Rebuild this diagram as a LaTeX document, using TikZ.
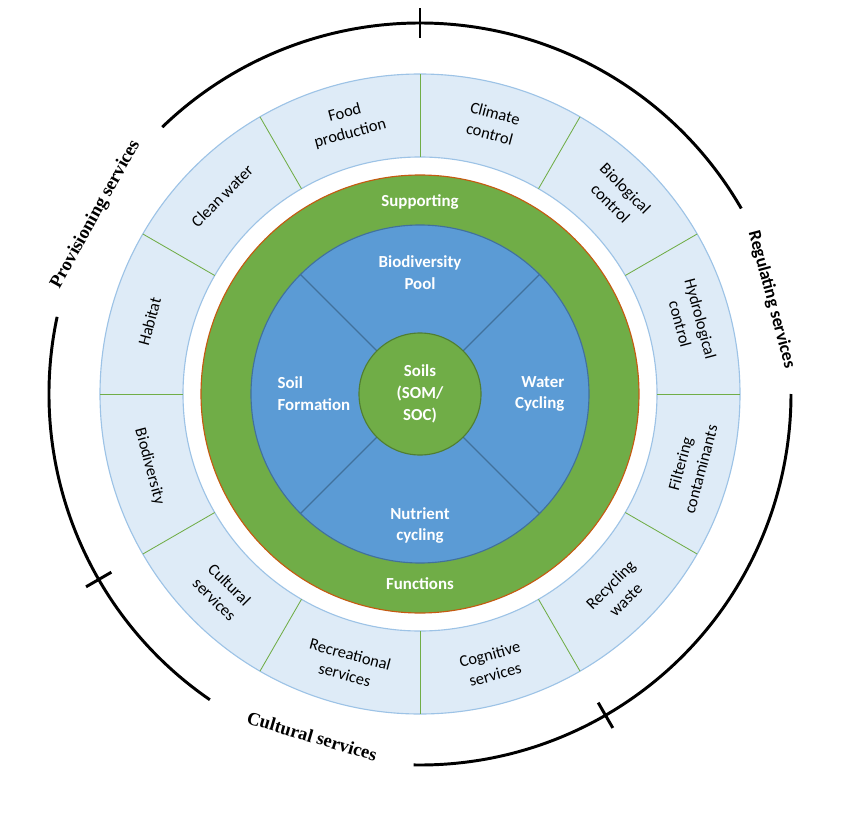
\documentclass[tikz,border=0pt]{standalone}
\usepackage{fontspec}
\setmainfont{Carlito}
\newfontfamily\timesfont{Liberation Serif}
\definecolor{paleblue}{HTML}{DEEBF7}
\definecolor{paleedge}{HTML}{9DC3E6}
\definecolor{leaf}{HTML}{70AD47}
\definecolor{leafdark}{HTML}{507E32}
\definecolor{rust}{HTML}{C55A11}
\definecolor{sky}{HTML}{5B9BD5}
\definecolor{skydark}{HTML}{41719C}

\begin{document}
\begin{tikzpicture}[
  seg/.style={align=center, inner sep=1pt, font=\fontsize{11.7}{15}\selectfont},
  core/.style={align=center, inner sep=1pt, text=white, font=\fontsize{12}{15.5}\selectfont\bfseries},
  band/.style={inner sep=1pt, font=\fontsize{13.2}{16}\timesfont\bfseries},
  rim/.style={line width=2.1pt}]
\useasboundingbox (-10.5,-10.875) rectangle (10.75,9.85);
% Ring 1: ecosystem services
\filldraw[fill=paleblue, draw=paleedge, line width=0.8pt] (0,0) circle (8);
\filldraw[fill=white, draw=paleedge, line width=0.8pt] (0,0) circle (5.925);
\foreach \a in {0,30,...,330}{ \draw[leaf, line width=0.6pt] (\a:5.925) -- (\a:8); }
\foreach \a/\r/\t [count=\i] in {105/15/Food\\production, 75/-15/Climate\\control, 45/-45/Biological\\control,
  15/-75/Hydrological\\control, -15/75/Filtering\\contaminants, -45/45/Recycling\\waste,
  -75/15/Cognitive\\services, -105/-15/Recreational\\services, -135/-45/Cultural\\services,
  -165/-75/Biodiversity, 165/75/Habitat, 135/45/Clean water}
  { \node[seg, rotate=\r] (srv\i) at (\a:7) {\t}; }
% Ring 2: supporting functions
\filldraw[fill=leaf, draw=rust, line width=0.8pt] (0,0) circle (5.475);
\filldraw[fill=sky, draw=skydark, line width=0.8pt] (0,0) circle (4.225);
\foreach \a in {45,135,225,315}{ \draw[skydark, line width=0.8pt] (\a:1.525) -- (\a:4.225); }
\filldraw[fill=leaf, draw=leafdark, line width=0.8pt] (0,0) circle (1.525);
\node[core] (supp) at (0,4.8) {Supporting};
\node[core] (func) at (0,-4.75) {Functions};
\node[core] (pool) at (0,3.04) {Biodiversity\\Pool};
\node[core] (nutr) at (0,-3.29) {Nutrient\\cycling};
\node[core, align=left, anchor=west] (form) at (-3.6,0) {Soil\\Formation};
\node[core, align=right, anchor=east] (water) at (3.65,0) {Water\\Cycling};
\node[core] (soil) at (0,0) {Soils\\(SOM/\\SOC)};
% Outer rim: service groups
\draw[rim] (30:9.275) arc (30:134:9.275);
\draw[rim] (168:9.275) arc (168:235.5:9.275);
\draw[rim] (269:9.275) arc (269:360:9.275);
\foreach \a in {90,210,300}{ \draw[rim] (\a:8.91) -- (\a:9.64); }
\node[band, rotate=61] (prov) at (151:9.27) {Provisioning services};
\node[band, rotate=-75, font=\fontsize{12.7}{15}\selectfont\bfseries] (regu) at (15:9.1) {Regulating services};
\node[band, rotate=-16.5] (cult) at (-107.5:8.97) {Cultural services};
\end{tikzpicture}
\end{document}
